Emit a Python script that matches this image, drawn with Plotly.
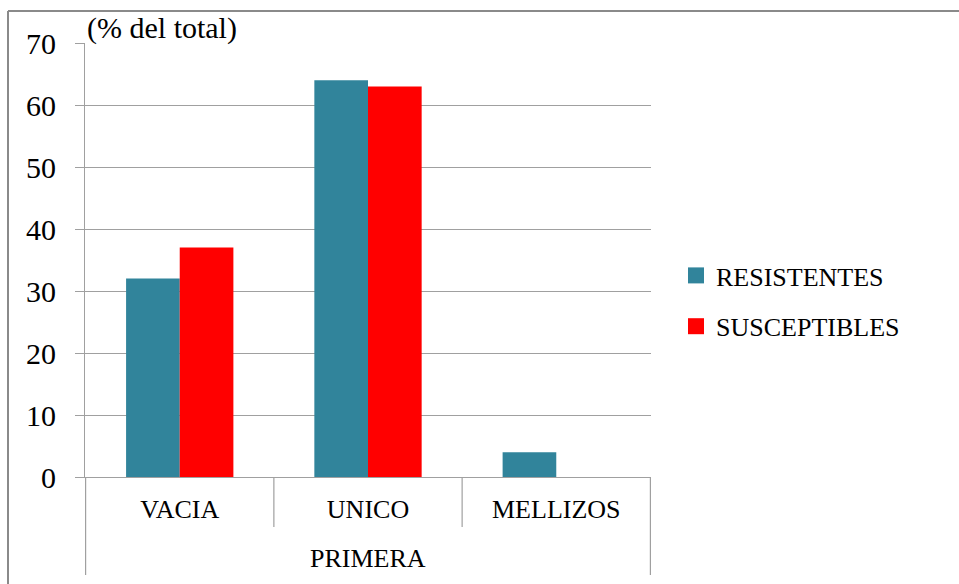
import plotly.graph_objects as go

# Data: share of births by type, first calving, resistant vs susceptible
categories = ["VACIA", "UNICO", "MELLIZOS"]
group_label = "PRIMERA"
resistentes = [32, 64, 4]
susceptibles = [37, 63, 0]
series_names = ["RESISTENTES", "SUSCEPTIBLES"]
series_colors = ["#31849B", "#FF0000"]
y_ticks = [0, 10, 20, 30, 40, 50, 60, 70]

W, H = 959, 584
L, R, T, B = 85, 308, 43, 107
pw, ph = W - L - R, H - T - B

def px_x(x):
    return (x - L) / pw

def px_y(y):
    return (H - B - y) / ph

FONT = "Liberation Serif"
FS = 26
GRID = "#a0a0a0"

fig = go.Figure()
for name, vals, col in zip(series_names, [resistentes, susceptibles], series_colors):
    fig.add_trace(go.Bar(x=categories, y=vals, name=name, marker=dict(color=col, line=dict(width=0)),
                         showlegend=False))
# legend swatches
for i, (name, col) in enumerate(zip(series_names, series_colors)):
    fig.add_trace(go.Scatter(x=[None], y=[None], mode="markers", name=name, legendgroup=f"g{i}",
                             marker=dict(symbol="square", size=16, color=col, line=dict(width=0))))

shapes = []
# category dividers below the axis
for xi, ybot in [(-0.5, 575), (0.5, 527), (1.5, 527), (2.5, 575)]:
    shapes.append(dict(type="line", xref="x", yref="paper", x0=xi, x1=xi, y0=0, y1=px_y(ybot),
                       line=dict(color=GRID, width=1.2)))
# outer chart border (left and top)
shapes.append(dict(type="line", xref="paper", yref="paper", x0=px_x(8), x1=px_x(8),
                   y0=px_y(11), y1=px_y(590), line=dict(color="#8a8a8a", width=2)))
shapes.append(dict(type="line", xref="paper", yref="paper", x0=px_x(8), x1=px_x(965),
                   y0=px_y(11), y1=px_y(11), line=dict(color="#8a8a8a", width=2)))

annotations = [
    dict(text="(% del total)", xref="paper", yref="paper", x=0, y=px_y(28), xanchor="left",
         yanchor="middle", showarrow=False, font=dict(family=FONT, size=30, color="black")),
    dict(text=group_label, xref="x", yref="paper", x=1, y=px_y(558), xanchor="center",
         yanchor="middle", showarrow=False, font=dict(family=FONT, size=FS, color="black")),
]

fig.update_layout(
    width=W, height=H,
    margin=dict(l=L, r=R, t=T, b=B, autoexpand=False),
    paper_bgcolor="white", plot_bgcolor="white",
    barmode="group", bargap=0.43, bargroupgap=0,
    font=dict(family=FONT, color="black"),
    shapes=shapes, annotations=annotations,
    legend=dict(x=px_x(676), y=px_y(301), xanchor="left", yanchor="middle",
                font=dict(family=FONT, size=FS, color="black"),
                traceorder="grouped", tracegroupgap=14, bgcolor="rgba(0,0,0,0)"),
    xaxis=dict(type="category", showgrid=False, showline=True, linecolor=GRID, linewidth=1.2,
               ticks="", tickfont=dict(family=FONT, size=FS, color="black"),
               ticklabelstandoff=9, zeroline=False),
    yaxis=dict(range=[0, 70], tickvals=y_ticks, showgrid=True, gridcolor=GRID, gridwidth=1.2,
               showline=True, linecolor=GRID, linewidth=1.2, ticks="outside", ticklen=9,
               tickcolor=GRID, tickwidth=1.2,
               tickfont=dict(family=FONT, size=30, color="black"),
               zeroline=False, ticklabelstandoff=13),
)

fig.write_html("out.html")
